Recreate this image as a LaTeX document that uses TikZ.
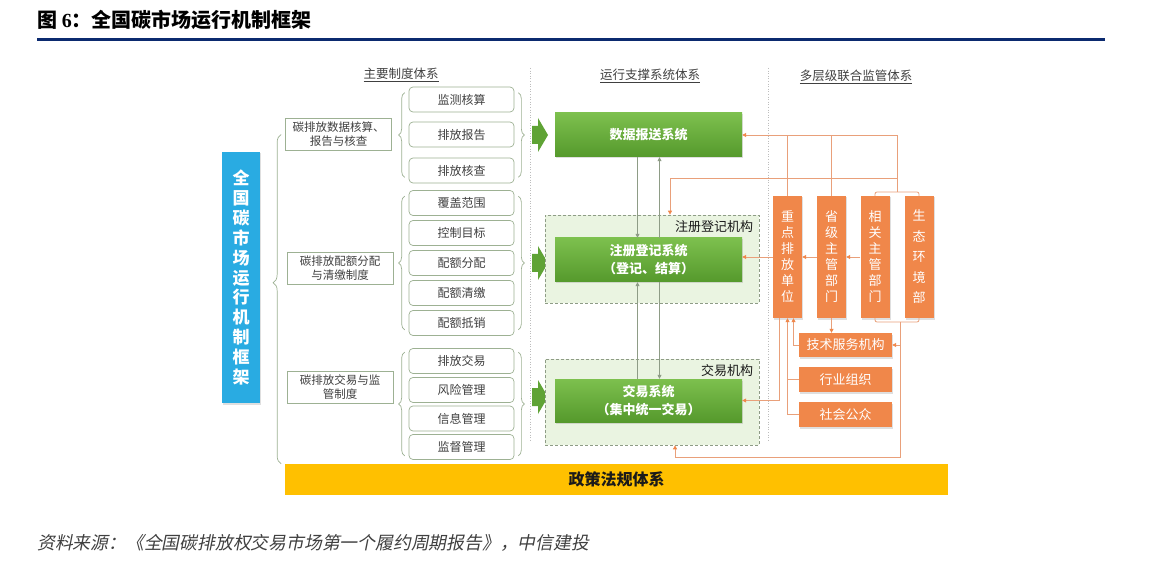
\documentclass[tikz,border=0pt]{standalone}
\usepackage{fontspec}
\setmainfont{Liberation Serif}
\newfontfamily\cjk{Noto Sans CJK SC}
\newfontfamily\cjkinclinada{Noto Sans CJK SC}[FakeSlant=0.2]
\usepackage{tikz}
\usetikzlibrary{arrows.meta,calc,positioning,shadows,decorations.pathreplacing}
\definecolor{marco}{HTML}{0B2A6F}
\definecolor{cielo}{HTML}{29ABE2}
\definecolor{verdearriba}{HTML}{7DC04E}
\definecolor{verdeabajo}{HTML}{55992C}
\definecolor{verdepalido}{HTML}{EAF4E1}
\definecolor{bordeverde}{HTML}{9DB193}
\definecolor{puntagris}{HTML}{8E9C86}
\definecolor{naranja}{HTML}{F0874A}
\definecolor{cable}{HTML}{E9A07A}
\definecolor{amarillo}{HTML}{FFC000}
\definecolor{tinta}{HTML}{1A1A1A}
\definecolor{tinta2}{HTML}{404040}
\definecolor{tenue}{HTML}{BDBDBD}
\tikzset{
  sombra/.style={drop shadow={opacity=0.25,shadow xshift=1pt,shadow yshift=-1.5pt}},
  cabecera/.style={font=\cjk\fontsize{12.5}{14}\selectfont,text=tinta2,inner sep=1pt},
  categoria/.style={draw=bordeverde,line width=0.7pt,minimum width=106pt,minimum height=32pt,align=center,inner sep=1pt,font=\cjk\fontsize{11.5}{14}\selectfont,text=tinta2},
  elemento/.style={draw=bordeverde,fill=white,line width=0.7pt,rounded corners=4pt,minimum width=105pt,minimum height=25pt,inner sep=1pt,font=\cjk\fontsize{12}{14}\selectfont,text=tinta2},
  sistema/.style={top color=verdearriba,bottom color=verdeabajo,minimum width=187pt,minimum height=44pt,align=center,inner sep=1pt,font=\cjk\bfseries\fontsize{13}{18}\selectfont,text=white,sombra},
  organismo/.style={draw=puntagris,fill=verdepalido,line width=0.7pt,dash pattern=on 3pt off 2pt,minimum width=214pt},
  rotulo/.style={font=\cjk\fontsize{13}{15}\selectfont,text=tinta,inner sep=1pt},
  flechaverde/.style={fill=verdeabajo!75!verdearriba},
  unidad/.style={fill=naranja,minimum width=29pt,minimum height=122pt,align=center,inner sep=0pt,font=\cjk\fontsize{13}{16}\selectfont,text=white,sombra},
  servicio/.style={fill=naranja,minimum width=93pt,minimum height=24pt,inner sep=0pt,font=\cjk\fontsize{13}{15}\selectfont,text=white,sombra},
  politica/.style={fill=amarillo,minimum width=663pt,minimum height=31pt,font=\cjk\bfseries\fontsize{16}{18}\selectfont,text=tinta},
  llave/.style={decorate,decoration={brace,amplitude=6pt},draw=bordeverde,line width=0.7pt},
  llavegrande/.style={decorate,decoration={brace,amplitude=8pt,aspect=0.55},draw=bordeverde,line width=0.7pt},
  cableado/.style={draw=cable,line width=0.8pt},
  flechanar/.style={cableado,-{Triangle[length=4pt,width=4pt,color=naranja]}},
  flechagris/.style={draw=puntagris,line width=0.7pt,-{Triangle[length=4pt,width=4pt]}},
  separador/.style={draw=tenue,line width=0.6pt,dotted},
}
\begin{document}
\begin{tikzpicture}[x=1pt,y=-1pt]
\fill[white] (0,0) rectangle (1156,561);
\useasboundingbox (0,0) rectangle (1156,561);
% titulo y fuente
\node[anchor=west,inner sep=0pt,text=black] (titulo) at (37,20)
  {{\cjk\bfseries\fontsize{20}{22}\selectfont 图 }{\bfseries\fontsize{20}{22}\selectfont 6}{\cjk\bfseries\fontsize{20}{22}\selectfont ：全国碳市场运行机制框架}};
\draw[marco,line width=3pt] (37,40) -- (1105,40);
\node[anchor=west,inner sep=0pt,text=tinta2,font=\cjkinclinada\fontsize{17.8}{19}\selectfont] (fuente) at (37,543)
  {资料来源：《全国碳排放权交易市场第一个履约周期报告》，中信建投};
% cabeceras
\node[cabecera] (hprincipal) at (401,75) {\underline{主要制度体系}};
\node[cabecera] (hsoporte) at (650,76) {\underline{运行支撑系统体系}};
\node[cabecera] (hsupervision) at (856,77) {\underline{多层级联合监管体系}};
\draw[separador] (530,68) -- (530,440);
\draw[separador] (768,68) -- (768,440);
% columna izquierda
\node[fill=cielo,minimum width=38pt,minimum height=251pt,align=center,inner sep=0pt,
  font=\cjk\bfseries\fontsize{17}{19.9}\selectfont,text=white,sombra] (marcoazul) at (241,277.5)
  {全\\国\\碳\\市\\场\\运\\行\\机\\制\\框\\架};
\node[categoria] (catdatos) at (338.5,134.5) {碳排放数据核算、\\报告与核查};
\node[categoria] (catcuotas) at (340,268.5) {碳排放配额分配\\与清缴制度};
\node[categoria] (catcomercio) at (340,387.5) {碳排放交易与监\\管制度};
\node[elemento] (monitoreo) at (461.5,99.5) {监测核算};
\node[elemento] (informe) at (461.5,134.5) {排放报告};
\node[elemento] (verificacion) at (461.5,170.5) {排放核查};
\node[elemento] (cobertura) at (461.5,203) {覆盖范围};
\node[elemento] (meta) at (461.5,233) {控制目标};
\node[elemento] (asignacion) at (461.5,263) {配额分配};
\node[elemento] (liquidacion) at (461.5,293) {配额清缴};
\node[elemento] (compensacion) at (461.5,323) {配额抵销};
\node[elemento] (negociacion) at (461.5,361) {排放交易};
\node[elemento] (riesgo) at (461.5,390) {风险管理};
\node[elemento] (informacion) at (461.5,418.5) {信息管理};
\node[elemento] (supervision) at (461.5,447) {监督管理};
\node[politica] (politica) at (616.5,479.5) {政策法规体系};
% llaves
\draw[llavegrande] ($(catdatos.west |- politica.north)+(-4,0)$) -- ($(catdatos.west)+(-4,0)$);
\draw[llave] ([xshift=-4pt,yshift=6pt]verificacion.south west) -- ([xshift=-4pt,yshift=-6pt]monitoreo.north west);
\draw[llave] ([xshift=-4pt,yshift=6pt]compensacion.south west) -- ([xshift=-4pt,yshift=-6pt]cobertura.north west);
\draw[llave] ([xshift=-4pt,yshift=4pt]supervision.south west) -- ([xshift=-4pt,yshift=-4pt]negociacion.north west);
\draw[llave] ([xshift=4pt,yshift=-6pt]monitoreo.north east) -- ([xshift=4pt,yshift=6pt]verificacion.south east);
\draw[llave] ([xshift=4pt,yshift=-6pt]cobertura.north east) -- ([xshift=4pt,yshift=6pt]compensacion.south east);
\draw[llave] ([xshift=4pt,yshift=-4pt]negociacion.north east) -- ([xshift=4pt,yshift=4pt]supervision.south east);
% flechas de bloque
\coordinate (fl1) at (532,135);
\coordinate (fl2) at (532,263);
\coordinate (fl3) at (532,397);
\fill[flechaverde] (fl1) ++(0,-9) -- ++(6,0) -- ++(0,-8) -- ++(10,17) -- ++(-10,17) -- ++(0,-8) -- ++(-6,0) -- cycle;
\fill[flechaverde] (fl2) ++(0,-9) -- ++(6,0) -- ++(0,-8) -- ++(10,17) -- ++(-10,17) -- ++(0,-8) -- ++(-6,0) -- cycle;
\fill[flechaverde] (fl3) ++(0,-9) -- ++(6,0) -- ++(0,-8) -- ++(10,17) -- ++(-10,17) -- ++(0,-8) -- ++(-6,0) -- cycle;
% sistemas de soporte
\node[organismo,minimum height=88pt] (orgregistro) at (652,259) {};
\node[organismo,minimum height=86pt] (orgcomercio) at (652,402) {};
\node[rotulo,anchor=north east] (rotregistro) at ([xshift=-5pt,yshift=-5pt]orgregistro.north east) {注册登记机构};
\node[rotulo,anchor=north east] (rotcomercio) at ([xshift=-5pt,yshift=-5pt]orgcomercio.north east) {交易机构};
\node[sistema] (sisdatos) at (648.5,135) {数据报送系统};
\node[sistema] (sisregistro) at (648.5,260) {注册登记系统\\（登记、结算）};
\node[sistema,minimum height=43pt] (siscomercio) at (648.5,400.5) {交易系统\\（集中统一交易）};
\draw[flechagris] ([xshift=-11pt]sisdatos.south) -- ([xshift=-11pt]sisregistro.north);
\draw[flechagris] ([xshift=11pt]sisregistro.north) -- ([xshift=11pt]sisdatos.south);
\draw[flechagris] ([xshift=-11pt]siscomercio.north) -- ([xshift=-11pt]sisregistro.south);
\draw[flechagris] ([xshift=11pt]sisregistro.south) -- ([xshift=11pt]siscomercio.north);
% supervision multinivel
\node[unidad] (emisores) at (787.5,257) {重\\点\\排\\放\\单\\位};
\node[unidad] (provincial) at (831.5,257) {省\\级\\主\\管\\部\\门};
\node[unidad] (sectorial) at (875,257) {相\\关\\主\\管\\部\\门};
\node[unidad,font=\cjk\fontsize{13}{20.5}\selectfont] (ministerio) at (919,257) {生\\态\\环\\境\\部};
\node[servicio] (tecnico) at (845.5,345) {技术服务机构};
\node[servicio,minimum height=25pt] (gremio) at (845.5,379.5) {行业组织};
\node[servicio,minimum height=25pt] (publico) at (845.5,414.5) {社会公众};
\coordinate (nudoalto) at (897,192);
\coordinate (busdatos) at (nudoalto |- sisdatos.east);
\coordinate (busregistro) at (897,178);
\coordinate (nudobajo) at (900,322);
\coordinate (buscomercio) at (900,457);
\draw[cableado,rounded corners=2pt] (sectorial.north) |- (nudoalto) -| (ministerio.north);
\draw[flechanar] (nudoalto) -- (busdatos) -- (sisdatos.east);
\draw[cableado] (emisores.north) -- (emisores.north |- busdatos);
\draw[cableado] (provincial.north) -- (provincial.north |- busdatos);
\draw[flechanar] (busregistro) -| ([xshift=18pt]orgregistro.north);
\draw[flechanar] (sectorial.west) -- (provincial.east);
\draw[flechanar] (provincial.west) -- (emisores.east);
\draw[flechanar] (emisores.west) -- (emisores.west -| sisregistro.east);
\draw[cableado,rounded corners=2pt] (sectorial.south) |- (nudobajo) -| (ministerio.south);
\draw[flechanar] (nudobajo) -- (buscomercio) -| ([xshift=23pt]orgcomercio.south);
\draw[flechanar] (tecnico.east -| nudobajo) -- (tecnico.east);
\draw[flechanar] (provincial.south) -- (provincial.south |- tecnico.north);
\draw[flechanar] (tecnico.west) -| ([xshift=6pt]emisores.south);
\draw[flechanar] (publico.west) -| (emisores.south);
\draw[cableado] (gremio.west) -- (gremio.west -| emisores.south);
\draw[flechanar] ([xshift=-8pt]emisores.south) |- (siscomercio.east);
\end{tikzpicture}
\end{document}
